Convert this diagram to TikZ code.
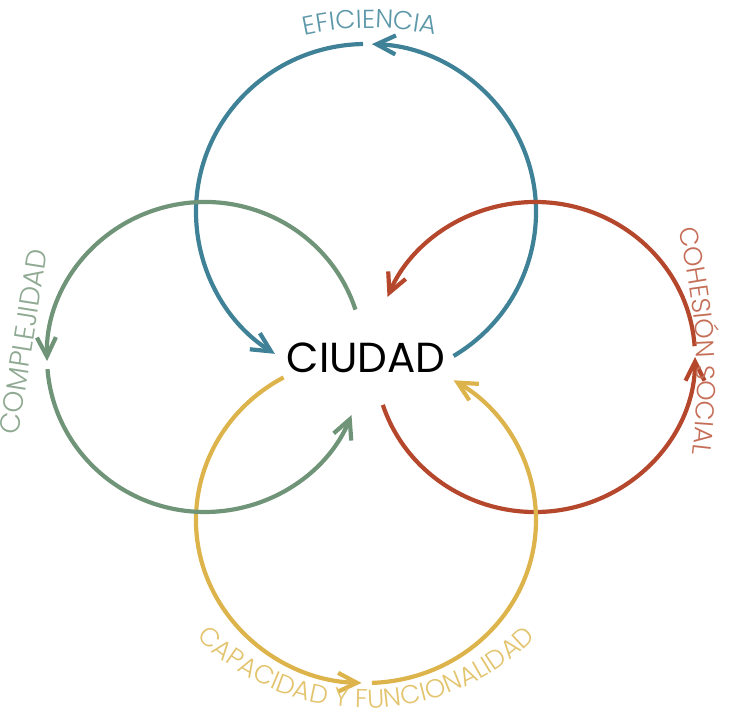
\documentclass[tikz,border=0pt]{standalone}
\usepackage{fontspec}
\setmainfont{Poppins}
\newfontfamily\thinfont{Poppins Light}
\usetikzlibrary{arrows.meta,decorations.text}
\definecolor{eficol}{HTML}{3F8297}
\definecolor{efilab}{HTML}{5B97A8}
\definecolor{cohcol}{HTML}{B5472D}
\definecolor{cohlab}{HTML}{C56E57}
\definecolor{capcol}{HTML}{DDB34B}
\definecolor{caplab}{HTML}{E3C46E}
\definecolor{comcol}{HTML}{6F9478}
\definecolor{comlab}{HTML}{8FA992}
\newcommand{\labelfont}{\thinfont\fontsize{26}{26}\selectfont}

\begin{document}
\begin{tikzpicture}[x=1pt, y=1pt, line width=4.2pt,
  loop arrow/.style={-{Straight Barb[length=19pt,width=19pt]}},
  loop label/.style={decorate, decoration={text along path, text align=center, text color=#1}}]
\useasboundingbox (0,0) rectangle (737,725);
\node[font=\fontsize{42}{42}\selectfont, inner sep=0pt] (city) at (366,367) {CIUDAD};
% loop centres
\coordinate (efi) at (366,513);
\coordinate (coh) at (535,368);
\coordinate (cap) at (366,205);
\coordinate (com) at (205,368);
% eficiencia
\draw[eficol, loop arrow] ([shift={(-59:170 and 168)}]efi) arc[start angle=-59, end angle=88, x radius=170, y radius=168];
\draw[eficol, loop arrow] ([shift={(91:170 and 168)}]efi) arc[start angle=91, end angle=237.6, x radius=170, y radius=168];
% cohesion social
\draw[cohcol, loop arrow] ([shift={(198:160 and 155)}]coh) arc[start angle=198, end angle=360, x radius=160, y radius=155];
\draw[cohcol, loop arrow] ([shift={(364:160 and 155)}]coh) arc[start angle=364, end angle=517.2, x radius=160, y radius=155];
% capacidad y funcionalidad
\draw[capcol, loop arrow] ([shift={(119:170 and 163)}]cap) arc[start angle=119, end angle=268.5, x radius=170, y radius=163];
\draw[capcol, loop arrow] ([shift={(272:170 and 163)}]cap) arc[start angle=272, end angle=419, x radius=170, y radius=163];
% complejidad
\draw[comcol, loop arrow] ([shift={(17.8:158 and 155)}]com) arc[start angle=17.8, end angle=181.5, x radius=158, y radius=155];
\draw[comcol, loop arrow] ([shift={(184.5:158 and 155)}]com) arc[start angle=184.5, end angle=338, x radius=158, y radius=155];
% labels
\coordinate (efitext) at (370,397);
\coordinate (cohtext) at (77,345);
\coordinate (captext) at (366,257);
\path[loop label=efilab, decoration={text={|\labelfont|EFICIENCIA}}] ([shift={(110:300)}]efitext) arc[start angle=110, end angle=70, radius=300];
\path[loop label=cohlab, decoration={text={|\labelfont|COHESIÓN SOCIAL}}] ([shift={(18.6:620)}]cohtext) arc[start angle=18.6, end angle=-11.4, radius=620];
\path[loop label=caplab, decoration={text={|\labelfont|CAPACIDAD Y FUNCIONALIDAD}}] ([shift={(212:240)}]captext) arc[start angle=212, end angle=328, radius=240];
\node[rotate=81, anchor=base, inner sep=0pt, text=comlab, font=\thinfont\fontsize{28}{28}\selectfont] (comtext) at (33,382) {COMPLEJIDAD};
\end{tikzpicture}
\end{document}
